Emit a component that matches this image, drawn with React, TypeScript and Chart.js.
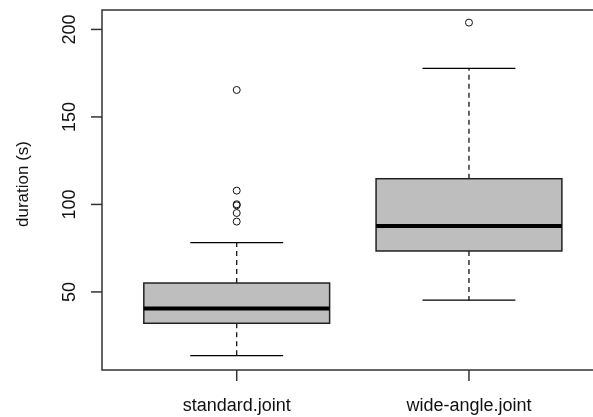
import React, { useEffect, useRef } from "react";
import { Chart, registerables } from "chart.js";

Chart.register(...registerables);

// ---- data ----
const categories = ["standard.joint", "wide-angle.joint"];
const whiskerLow = [13.6, 45.3];
const q1 = [32.1, 73.4];
const median = [40.5, 87.7];
const q3 = [55.1, 114.7];
const whiskerHigh = [78.2, 177.8];
const outliers = [[90.2, 95.1, 99.5, 100.1, 107.9, 165.4], [203.9]];
const yTicks = [50, 100, 150, 200];
const yTitle = "duration (s)";

const FONT = "Arial, 'Liberation Sans', sans-serif";
const TEXT = "#111";
const AXIS = "#333";

const rBoxPlugin = {
  id: "rBox",
  beforeDatasetsDraw(chart: any) {
    const { ctx, scales } = chart;
    const x = scales.x;
    const y = scales.y;
    ctx.save();
    categories.forEach((_, i) => {
      const c = i + 1;
      const cx = x.getPixelForValue(c);
      const bl = x.getPixelForValue(c - 0.4);
      const br = x.getPixelForValue(c + 0.4);
      const sl = x.getPixelForValue(c - 0.2);
      const sr = x.getPixelForValue(c + 0.2);
      const yq1 = y.getPixelForValue(q1[i]);
      const yq3 = y.getPixelForValue(q3[i]);
      const ymed = y.getPixelForValue(median[i]);
      const ylo = y.getPixelForValue(whiskerLow[i]);
      const yhi = y.getPixelForValue(whiskerHigh[i]);
      ctx.strokeStyle = "#000";
      ctx.lineWidth = 1.2;
      // dashed whiskers
      ctx.setLineDash([5, 4]);
      ctx.beginPath();
      ctx.moveTo(cx, yq3);
      ctx.lineTo(cx, yhi);
      ctx.moveTo(cx, yq1);
      ctx.lineTo(cx, ylo);
      ctx.stroke();
      ctx.setLineDash([]);
      // staples
      ctx.beginPath();
      ctx.moveTo(sl, yhi);
      ctx.lineTo(sr, yhi);
      ctx.moveTo(sl, ylo);
      ctx.lineTo(sr, ylo);
      ctx.stroke();
      // box
      ctx.fillStyle = "#bebebe";
      ctx.fillRect(bl, yq3, br - bl, yq1 - yq3);
      ctx.lineWidth = 1.5;
      ctx.strokeStyle = "#222";
      ctx.strokeRect(bl, yq3, br - bl, yq1 - yq3);
      // median
      ctx.lineWidth = 4;
      ctx.strokeStyle = "#000";
      ctx.beginPath();
      ctx.moveTo(bl, ymed);
      ctx.lineTo(br, ymed);
      ctx.stroke();
    });
    ctx.restore();
  },
  afterDraw(chart: any) {
    const { ctx, chartArea: a, scales } = chart;
    const x = scales.x;
    const y = scales.y;
    ctx.save();
    ctx.strokeStyle = AXIS;
    ctx.lineWidth = 1.5;
    // frame (right side is outside the picture)
    ctx.beginPath();
    ctx.moveTo(chart.width, a.top);
    ctx.lineTo(a.left, a.top);
    ctx.lineTo(a.left, a.bottom);
    ctx.lineTo(chart.width, a.bottom);
    ctx.stroke();
    // y ticks
    ctx.fillStyle = TEXT;
    ctx.font = `18px ${FONT}`;
    yTicks.forEach((t) => {
      const py = y.getPixelForValue(t);
      ctx.beginPath();
      ctx.moveTo(a.left - 11, py);
      ctx.lineTo(a.left, py);
      ctx.stroke();
      ctx.save();
      ctx.translate(74.5, py);
      ctx.rotate(-Math.PI / 2);
      ctx.textAlign = "center";
      ctx.textBaseline = "alphabetic";
      ctx.fillText(String(t), 0, 0);
      ctx.restore();
    });
    // x ticks
    categories.forEach((cat, i) => {
      const px = x.getPixelForValue(i + 1);
      ctx.beginPath();
      ctx.moveTo(px, a.bottom);
      ctx.lineTo(px, a.bottom + 11);
      ctx.stroke();
      ctx.textAlign = "center";
      ctx.textBaseline = "alphabetic";
      ctx.fillText(cat, px, 411);
    });
    // y title
    ctx.save();
    ctx.font = `17px ${FONT}`;
    ctx.translate(28, 184);
    ctx.rotate(-Math.PI / 2);
    ctx.textAlign = "center";
    ctx.textBaseline = "alphabetic";
    ctx.fillText(yTitle, 0, 0);
    ctx.restore();
    ctx.restore();
  },
};

export default function App() {
  const ref = useRef<HTMLCanvasElement | null>(null);
  useEffect(() => {
    if (!ref.current) return;
    const points = outliers.flatMap((arr, i) => arr.map((v) => ({ x: i + 1, y: v })));
    const chart = new Chart(ref.current, {
      type: "scatter",
      data: {
        datasets: [
          {
            label: "outliers",
            data: points,
            pointRadius: 3.5,
            pointBorderWidth: 1,
            pointBorderColor: "#111",
            pointBackgroundColor: "rgba(0,0,0,0)",
            showLine: false,
          },
        ],
      },
      options: {
        responsive: false,
        animation: false,
        devicePixelRatio: 1,
        layout: { autoPadding: false, padding: { left: 102, top: 10, right: 0, bottom: 47 } },
        scales: {
          x: { type: "linear", min: 0.42, max: 2.534, display: false },
          y: { type: "linear", min: 5.4, max: 211.1, display: false },
        },
        plugins: { legend: { display: false }, tooltip: { enabled: false } },
      },
      plugins: [rBoxPlugin],
    });
    return () => chart.destroy();
  }, []);
  return (
    <div style={{ position: "fixed", left: 0, top: 0, width: 593, height: 417, background: "#fff" }}>
      <canvas ref={ref} width={593} height={417} style={{ width: 593, height: 417 }} />
    </div>
  );
}
